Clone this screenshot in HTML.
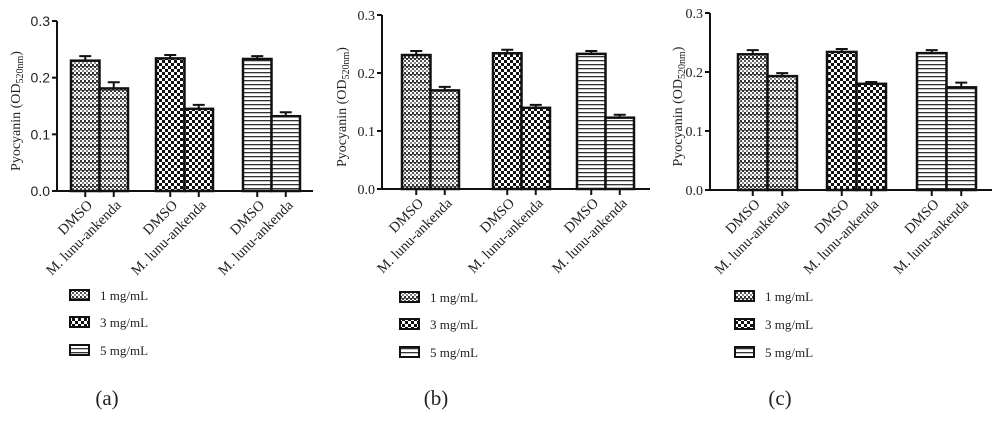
<!DOCTYPE html>
<html><head><meta charset="utf-8">
<style>
html,body{margin:0;padding:0;background:#fff;width:1000px;height:423px;overflow:hidden}
svg{display:block}
text{font-family:"Liberation Serif",serif;fill:#222}
</style></head>
<body>
<svg id="chart" width="1000" height="423" viewBox="0 0 1000 423">
<defs>
<pattern id="p1" width="4" height="8" patternUnits="userSpaceOnUse">
<rect width="4" height="8" fill="#fff"/>
<rect x="0" y="0" width="2" height="2" fill="#333"/><rect x="2" y="2" width="2" height="2" fill="#333"/>
<rect x="0" y="4" width="2" height="2" fill="#555"/><rect x="2" y="6" width="2" height="2" fill="#888"/>
<rect x="0" y="2" width="2" height="1" fill="#777"/>
</pattern>
<pattern id="p2" width="6" height="6" patternUnits="userSpaceOnUse">
<rect width="6" height="6" fill="#fff"/>
<rect x="0" y="0" width="3" height="3" fill="#111"/><rect x="3" y="3" width="3" height="3" fill="#111"/>
</pattern>
<pattern id="p3" width="4" height="4" patternUnits="userSpaceOnUse">
<rect width="4" height="4" fill="#fff"/><rect x="0" y="0" width="4" height="1.3" fill="#333"/>
</pattern>
</defs>
</svg>
<script>
const categories = ["DMSO","M. lunu-ankenda"];
const doses = ["1 mg/mL","3 mg/mL","5 mg/mL"];
const panelLabels = ["(a)","(b)","(c)"];
const yTicks = [0.0,0.1,0.2,0.3];
const valuesA = [0.230,0.181,0.234,0.145,0.233,0.132];
const errorsA = [0.008,0.011,0.006,0.007,0.005,0.007];
const valuesB = [0.231,0.170,0.234,0.140,0.233,0.123];
const errorsB = [0.007,0.006,0.006,0.005,0.005,0.005];
const valuesC = [0.230,0.193,0.234,0.180,0.232,0.174];
const errorsC = [0.007,0.005,0.005,0.003,0.005,0.008];

const NS="http://www.w3.org/2000/svg";
const svg=document.getElementById('chart');
function mk(tag,attrs,parent){const e=document.createElementNS(NS,tag);for(const k in attrs)e.setAttribute(k,attrs[k]);(parent||svg).appendChild(e);return e;}

const layouts=[
 {ax:57,top:21,bot:191,end:313,groups:[71,156,243],bw:28.5,lx:70,ly:[295,322,350],cap:[107,398],yl:20,tf:'"Liberation Sans",sans-serif'},
 {ax:382,top:15,bot:189,end:650,groups:[402,493,577],bw:28.5,lx:400,ly:[297,324,352],cap:[436,398],yl:346,tf:'"Liberation Serif",serif'},
 {ax:710,top:13,bot:190,end:992,groups:[738,827,917],bw:29.5,lx:735,ly:[296,324,352],cap:[780,398],yl:682,tf:'"Liberation Serif",serif'}
];
const allVals=[valuesA,valuesB,valuesC], allErr=[errorsA,errorsB,errorsC];

layouts.forEach((L,pi)=>{
  const g=mk('g',{});
  
  
  const y=v=>L.bot-(v/0.3)*(L.bot-L.top);
  allVals[pi].forEach((v,i)=>{
    const grp=Math.floor(i/2), k=i%2;
    const x=L.groups[grp]+k*L.bw;
    const cx=x+L.bw/2;
    const e=allErr[pi][i];
    const eb=mk('path',{d:`M${cx} ${y(v)}V${y(v+e)}M${cx-6} ${y(v+e)}H${cx+6}`,stroke:'#111','stroke-width':2,fill:'none'},g);
    
    
    const r=mk('rect',{x:x,y:y(v),width:L.bw,height:L.bot-y(v),fill:`url(#p${grp+1})`,stroke:'#111','stroke-width':2.5},g);
    
    
    mk('line',{x1:cx,x2:cx,y1:L.bot,y2:L.bot+6,stroke:'#111','stroke-width':2},g);
    const tx=cx+8, ty=L.bot+15;
    const t=mk('text',{x:tx,y:ty,'text-anchor':'end','font-size':14.5,transform:`rotate(-45 ${tx} ${ty})`},g);
    t.textContent=categories[k];
    
    
  });
  const axes=mk('path',{d:`M${L.ax} ${L.top}V${L.bot}H${L.end}`,stroke:'#111','stroke-width':2,fill:'none'},g);
  
  
  yTicks.forEach(tv=>{
    mk('line',{x1:L.ax-5,x2:L.ax,y1:y(tv),y2:y(tv),stroke:'#111','stroke-width':2},g);
    const t=mk('text',{x:L.ax-7,y:y(tv)+5,'text-anchor':'end','font-size':14,style:'font-family:'+L.tf},g);
    t.textContent=tv.toFixed(1);
    
    
  });
  const ym=(L.top+L.bot)/2+5;
  const yt=mk('text',{x:L.yl,y:ym,'text-anchor':'middle','font-size':14,transform:`rotate(-90 ${L.yl} ${ym})`},g);
  yt.innerHTML='Pyocyanin (OD<tspan font-size="10" dy="3">520nm</tspan><tspan dy="-3">)</tspan>';
  
  
  doses.forEach((d,i)=>{
    const le=mk('g',{},g);
    
    
    mk('rect',{x:L.lx,y:L.ly[i]-5,width:19,height:10,fill:`url(#p${i+1})`,stroke:'#111','stroke-width':2},le);
    const t=mk('text',{x:L.lx+30,y:L.ly[i]+5,'font-size':13},le);
    t.textContent=d;
  });
  const c=mk('text',{x:L.cap[0],y:L.cap[1]+7,'text-anchor':'middle','font-size':21},g);
  c.textContent=panelLabels[pi];
  
  
});
</script>
</body></html>
